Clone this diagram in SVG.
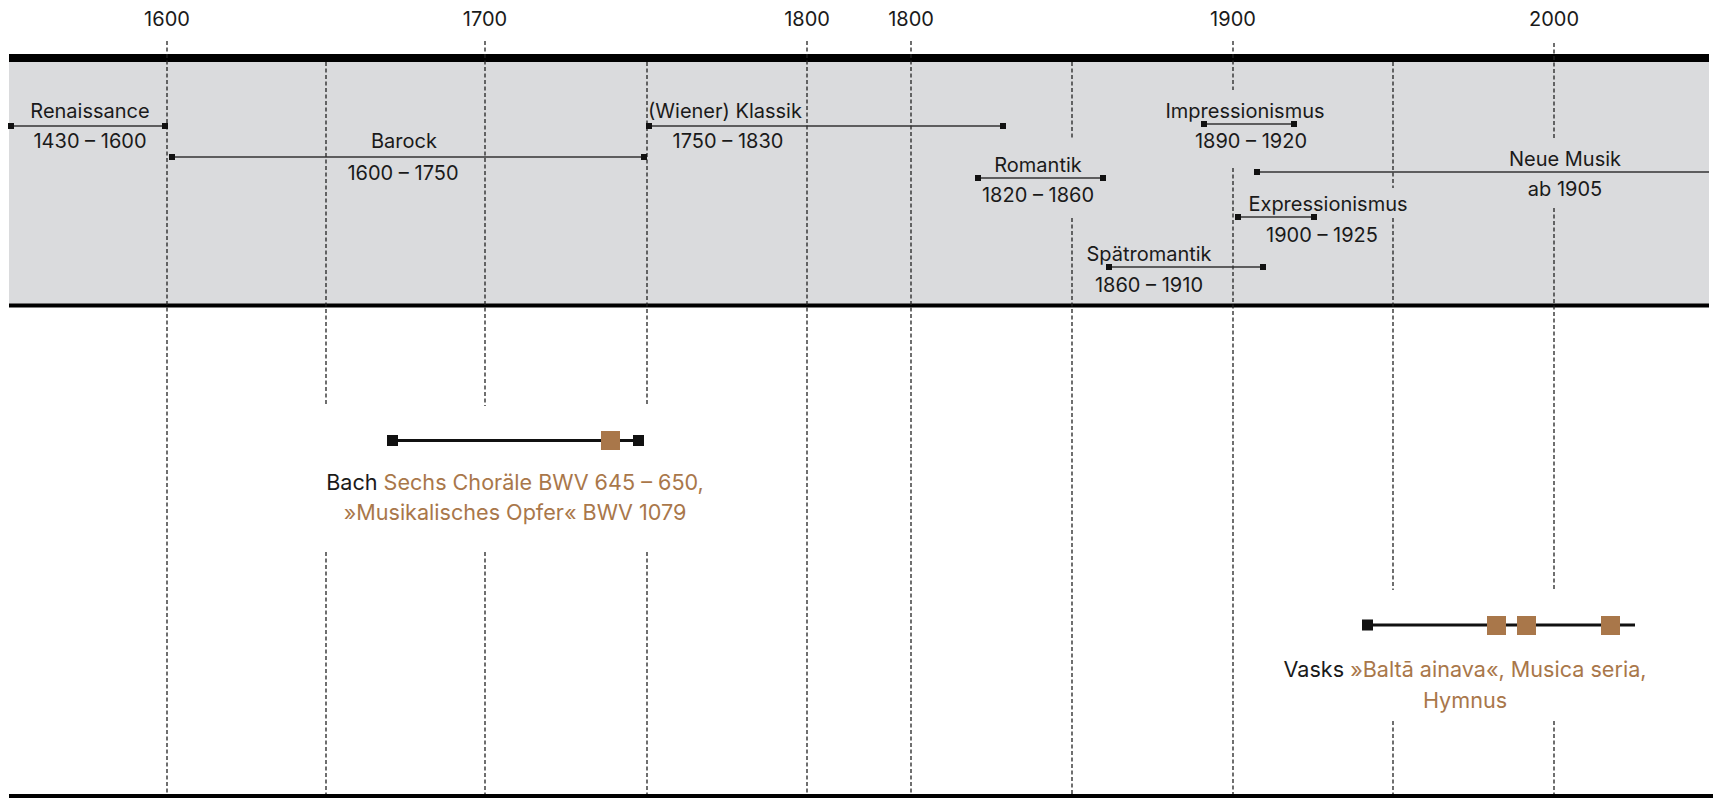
<svg xmlns="http://www.w3.org/2000/svg" width="1713" height="798" viewBox="0 0 1713 798">
<style>
text{font-family:Inter,"Noto Sans","Liberation Sans",sans-serif;font-size:20px;fill:#1a1a1a;text-anchor:middle}
.big{font-size:21.6px}
.br{fill:#a9774a}
.dash{stroke:#222;stroke-width:1.3;stroke-dasharray:4 2.5;fill:none}
.per{stroke:#333;stroke-width:1.4;fill:none}
.tl{stroke:#111;stroke-width:3;fill:none}
.sq{fill:#111}
.bsq{fill:#a9774a}
</style>
<rect x="0" y="0" width="1713" height="798" fill="#fff"/>
<rect x="9" y="62" width="1700" height="242" fill="#dadbdd"/>
<rect x="9" y="54" width="1700" height="8" fill="#000"/>
<rect x="9" y="303.5" width="1700" height="4" fill="#000"/>
<rect x="9" y="794" width="1704" height="4" fill="#000"/>
<g id="years">
<text x="167" y="26">1600</text>
<text x="485" y="26">1700</text>
<text x="807" y="26">1800</text>
<text x="911" y="26">1800</text>
<text x="1233" y="26">1900</text>
<text x="1554" y="26">2000</text>
</g>
<g id="gridlines" class="dash">
<path d="M167 41V794"/>
<path d="M326 62V406M326 552V794"/>
<path d="M485 41V406M485 552V794"/>
<path d="M647 62V406M647 552V794"/>
<path d="M807 41V794"/>
<path d="M911 41V794"/>
<path d="M1072 62V140M1072 218V794"/>
<path d="M1233 41V90M1233 168V794"/>
<path d="M1393 62V188M1393 218V590M1393 721V794"/>
<path d="M1554 43V138M1554 208V590M1554 721V794"/>
</g>
<g id="connectors">
<path class="per" d="M11 126H165"/>
<path class="per" d="M172 157H644"/>
<path class="per" d="M649 126H1003"/>
<path class="per" d="M978 178H1103"/>
<path class="per" d="M1204 124H1294"/>
<path class="per" d="M1257 172H1709"/>
<path class="per" d="M1238 217H1314"/>
<path class="per" d="M1109 267H1263"/>
<path class="tl" d="M392 440.5H638"/>
<path class="tl" d="M1367 625H1635"/>
</g>
<g id="renaissance">
<rect class="sq" x="8" y="123" width="6" height="6"/><rect class="sq" x="162" y="123" width="6" height="6"/>
<text x="90" y="118">Renaissance</text><text x="90" y="148">1430 – 1600</text>
</g>
<g id="barock">
<rect class="sq" x="169" y="154" width="6" height="6"/><rect class="sq" x="641" y="154" width="6" height="6"/>
<text x="404" y="148">Barock</text><text x="403" y="180">1600 – 1750</text>
</g>
<g id="klassik">
<rect class="sq" x="646" y="123" width="6" height="6"/><rect class="sq" x="1000" y="123" width="6" height="6"/>
<text x="725" y="118">(Wiener) Klassik</text><text x="728" y="148">1750 – 1830</text>
</g>
<g id="romantik">
<rect class="sq" x="975" y="175" width="6" height="6"/><rect class="sq" x="1100" y="175" width="6" height="6"/>
<text x="1038" y="172">Romantik</text><text x="1038" y="202">1820 – 1860</text>
</g>
<g id="impressionismus">
<rect class="sq" x="1201" y="121" width="6" height="6"/><rect class="sq" x="1291" y="121" width="6" height="6"/>
<text x="1245" y="118">Impressionismus</text><text x="1251" y="148">1890 – 1920</text>
</g>
<g id="neuemusik">
<rect class="sq" x="1254" y="169" width="6" height="6"/>
<text x="1565" y="166">Neue Musik</text><text x="1565" y="196">ab 1905</text>
</g>
<g id="expressionismus">
<rect class="sq" x="1235" y="214" width="6" height="6"/><rect class="sq" x="1311" y="214" width="6" height="6"/>
<text x="1328" y="211">Expressionismus</text><text x="1322" y="242">1900 – 1925</text>
</g>
<g id="spaetromantik">
<rect class="sq" x="1106" y="264" width="6" height="6"/><rect class="sq" x="1260" y="264" width="6" height="6"/>
<text x="1149" y="261">Spätromantik</text><text x="1149" y="292">1860 – 1910</text>
</g>
<g id="bach">
<rect class="sq" x="387" y="435" width="11" height="11"/><rect class="sq" x="633" y="435" width="11" height="11"/>
<rect class="bsq" x="601" y="431" width="19" height="19"/>
<text class="big" x="515" y="490">Bach <tspan class="br">Sechs Choräle BWV 645 – 650,</tspan></text>
<text class="big br" x="515" y="520">»Musikalisches Opfer« BWV 1079</text>
</g>
<g id="vasks">
<rect class="sq" x="1362" y="619.5" width="11" height="11"/>
<rect class="bsq" x="1487" y="616" width="19" height="19"/>
<rect class="bsq" x="1517" y="616" width="19" height="19"/>
<rect class="bsq" x="1601" y="616" width="19" height="19"/>
<text class="big" x="1465" y="677">Vasks <tspan class="br">»Baltā ainava«, Musica seria,</tspan></text>
<text class="big br" x="1465" y="708">Hymnus</text>
</g>
</svg>
